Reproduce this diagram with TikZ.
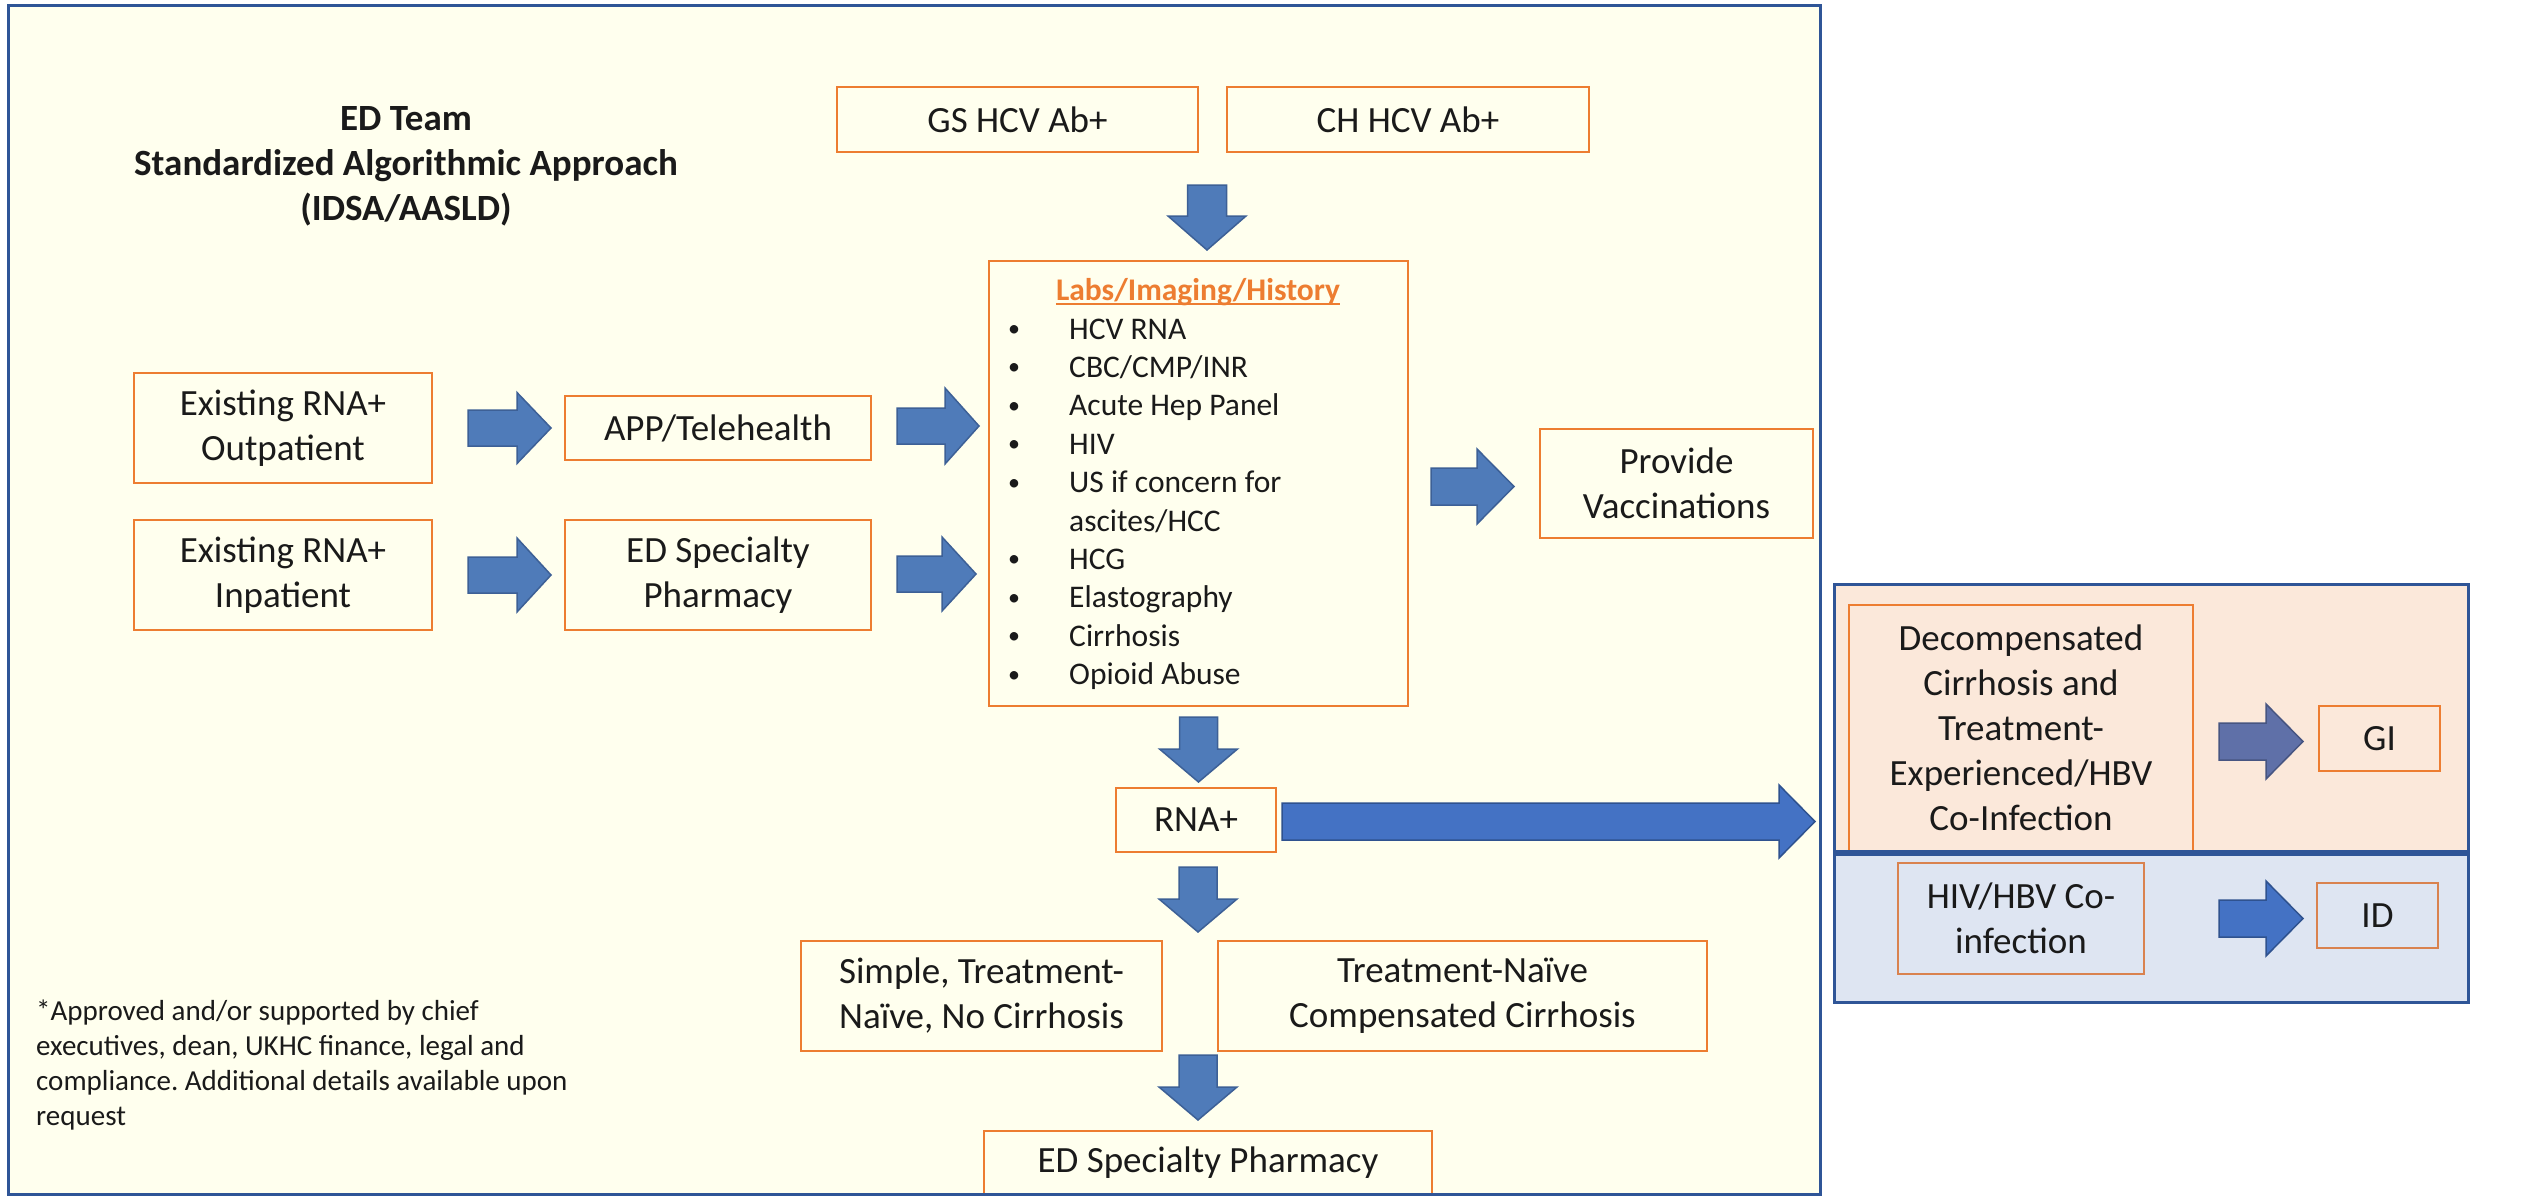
\documentclass[tikz,border=0pt]{standalone}
\usepackage{fontspec}
\setmainfont{Carlito}
\usetikzlibrary{calc}
\definecolor{boxor}{HTML}{ED7D31}
\definecolor{boxortwo}{HTML}{D9824F}
\definecolor{panelblue}{HTML}{2F5597}
\definecolor{mainfill}{HTML}{FFFFEE}
\definecolor{gifill}{HTML}{FBE8DA}
\definecolor{idfill}{HTML}{DEE5F2}
\definecolor{arrA}{HTML}{4F7BB9}
\definecolor{arrAd}{HTML}{3D6096}
\definecolor{arrB}{HTML}{4472C4}
\definecolor{arrBd}{HTML}{2F528F}
\definecolor{arrG}{HTML}{5F70A8}
\definecolor{arrGd}{HTML}{475581}
\definecolor{txt}{HTML}{1A1A1A}
\newcommand\fsz[2]{\fontsize{#1pt}{#2pt}\selectfont}
\newcommand\bul{\raisebox{2.5pt}{\fsz{24}{38.4}\textbullet}}
% right-pointing block arrow: tail, tip, shaft half width, head half width, head length
\newcommand\rarrow[6][]{%
  \path[arrowbase,#1] let \p1=#2, \p2=#3 in
    (\x1,\y1+#4) -- (\x2-#6,\y1+#4) -- (\x2-#6,\y1+#5) -- (\x2,\y1)
    -- (\x2-#6,\y1-#5) -- (\x2-#6,\y1-#4) -- (\x1,\y1-#4) -- cycle;}
% down-pointing block arrow
\newcommand\darrow[6][]{%
  \path[arrowbase,#1] let \p1=#2, \p2=#3 in
    (\x1-#4,\y1) -- (\x1-#4,\y2+#6) -- (\x1-#5,\y2+#6) -- (\x1,\y2)
    -- (\x1+#5,\y2+#6) -- (\x1+#4,\y2+#6) -- (\x1+#4,\y1) -- cycle;}
\tikzset{
  arrowbase/.style={fill=arrA, draw=arrAd, line width=1.5pt, line join=miter},
  bigarrow/.style={fill=arrB, draw=arrBd},
  giarrow/.style={fill=arrG, draw=arrGd},
  idarrow/.style={fill=arrB, draw=arrBd},
  obox/.style={draw=boxor, line width=2.5pt, inner sep=0pt, outer sep=0pt,
    align=center, text=txt, font=\fsz{37}{45}},
  panel/.style={inner sep=0pt, outer sep=0pt},
  panelline/.style={draw=panelblue, line width=3pt},
}
\frenchspacing
\begin{document}
\begin{tikzpicture}[x=1pt,y=-1pt]
\useasboundingbox (0,0) rectangle (2535,1196);
\fill[white] (0,0) rectangle (2535,1196);
% panels
\node[panel, fill=mainfill, minimum width=1812, minimum height=1188.5] (mainp) at (914,599.75) {};
\node[panel, fill=gifill, minimum width=634, minimum height=267] (gipanel) at (2151,717.5) {};
\node[panel, fill=idfill, minimum width=634, minimum height=148] (idpanel) at (2151,928) {};

% title
\node[font=\bfseries\fsz{37}{45}, align=center, text=txt] (title) at (406,166)
  {ED Team\\Standardized Algorithmic Approach\\(IDSA/AASLD)};

% boxes
\node[obox, minimum width=361, minimum height=65] (gs) at (1017.5,119.5) {GS HCV Ab+};
\node[obox, minimum width=362, minimum height=65] (ch) at (1408,119.5) {CH HCV Ab+};
\node[obox, minimum width=419, minimum height=445] (labs) at (1198.5,483.5) {};
\node[obox, minimum width=298, minimum height=110] (outp) at (283,428) {Existing RNA+\\Outpatient};
\node[obox, minimum width=306, minimum height=64] (app) at (718,428) {APP/Telehealth};
\node[obox, minimum width=298, minimum height=110] (inp) at (283,575) {Existing RNA+\\Inpatient};
\node[obox, minimum width=306, minimum height=110] (pharm) at (718,575) {ED Specialty\\Pharmacy};
\node[obox, minimum width=273, minimum height=109] (vacc) at (1676.5,483.5) {Provide\\Vaccinations};
\node[obox, minimum width=160, minimum height=64] (rna) at (1196,820) {RNA+};
\node[obox, minimum width=361, minimum height=110] (simple) at (981.5,996) {Simple, Treatment-\\Naïve, No Cirrhosis};
\node[obox, minimum width=489, minimum height=110] (tnaive) at (1462.5,996) {Treatment-Naïve\\Compensated Cirrhosis};
\node[obox, minimum width=448, minimum height=63] (edp) at (1208,1162.5) {ED Specialty Pharmacy};
\node[obox, minimum width=344, minimum height=246] (decomp) at (2021,728)
  {Decompensated\\Cirrhosis and\\Treatment-\\Experienced/HBV\\Co-Infection};
\node[obox, minimum width=121, minimum height=65] (gi) at (2379.5,738.5) {GI};
\node[obox, draw=boxortwo, minimum width=246, minimum height=111] (hiv) at (2021,918.5) {HIV/HBV Co-\\infection};
\node[obox, draw=boxortwo, minimum width=121, minimum height=65] (id) at (2377.5,915.5) {ID};

% labs content
\node[anchor=base, inner sep=0pt, font=\bfseries\fsz{31.5}{38}, text=boxor] (labtitle) at (1198,300) {Labs/Imaging/History};
\draw[boxor, line width=2pt] ($(labtitle.base west)+(0,4)$) -- ($(labtitle.base east)+(0,4)$);
\node[anchor=base west, inner sep=0pt, font=\fsz{31.5}{38.4}, text=txt] (labslist) at (1008,339)
  {\begin{tabular}[t]{@{}p{61pt}@{}l@{}}
   \bul & HCV RNA\\
   \bul & CBC/CMP/INR\\
   \bul & Acute Hep Panel\\
   \bul & HIV\\
   \bul & US if concern for\\
        & ascites/HCC\\
   \bul & HCG\\
   \bul & Elastography\\
   \bul & Cirrhosis\\
   \bul & Opioid Abuse
   \end{tabular}};

% footnote
\node[anchor=base west, inner sep=0pt, font=\fsz{29}{35}, text=txt] (note) at (36,1020)
  {\begin{tabular}[t]{@{}l@{}}
   *Approved and/or supported by chief\\
   executives, dean, UKHC finance, legal and\\
   compliance. Additional details available upon\\
   request
   \end{tabular}};

% block arrows
\rarrow{($(outp.east)+(36,0)$)}{($(app.west)+(-14,0)$)}{18pt}{35.5pt}{34pt}
\rarrow{($(app.east)+(26,-2)$)}{($(labs.west)+(-10,0)$)}{18pt}{38pt}{34pt}
\rarrow{($(inp.east)+(36,0)$)}{($(pharm.west)+(-14,0)$)}{18pt}{37pt}{34pt}
\rarrow{($(pharm.east)+(26,-1)$)}{($(labs.west)+(-13,0)$)}{18pt}{37pt}{34pt}
\rarrow{($(labs.east)+(23,3)$)}{($(vacc.west)+(-26,0)$)}{18.5pt}{37.5pt}{37pt}
\darrow{($(labs.north)+(8.5,-76)$)}{($(labs.north)+(8.5,-11)$)}{19.5pt}{39pt}{34pt}
\darrow{($(labs.south)+(0,11)$)}{($(rna.north)+(0,-6)$)}{19pt}{39pt}{33pt}
\darrow{($(rna.south)+(2,15)$)}{($(simple.north)+(0,-9)$)}{19pt}{39pt}{33pt}
\darrow{($(edp.north)+(-10,-76)$)}{($(edp.north)+(-10,-11)$)}{19pt}{39pt}{33pt}
\rarrow[bigarrow]{($(rna.east)+(6,1.5)$)}{($(gipanel.south west)+(-19,0)$)}{18.5pt}{36.5pt}{36pt}
\rarrow[giarrow]{($(decomp.east)+(26,13.5)$)}{($(gi.west)+(-16,0)$)}{18.5pt}{37.5pt}{37pt}
\rarrow[idarrow]{($(hiv.east)+(75,0)$)}{($(id.west)+(-14,0)$)}{18.5pt}{37.5pt}{37pt}

% panel borders on top
\draw[panelline] (mainp.south west) rectangle (mainp.north east);
\draw[panelline] (gipanel.south west) rectangle (gipanel.north east);
\draw[panelline] (idpanel.south west) rectangle (idpanel.north east);
\end{tikzpicture}
\end{document}
